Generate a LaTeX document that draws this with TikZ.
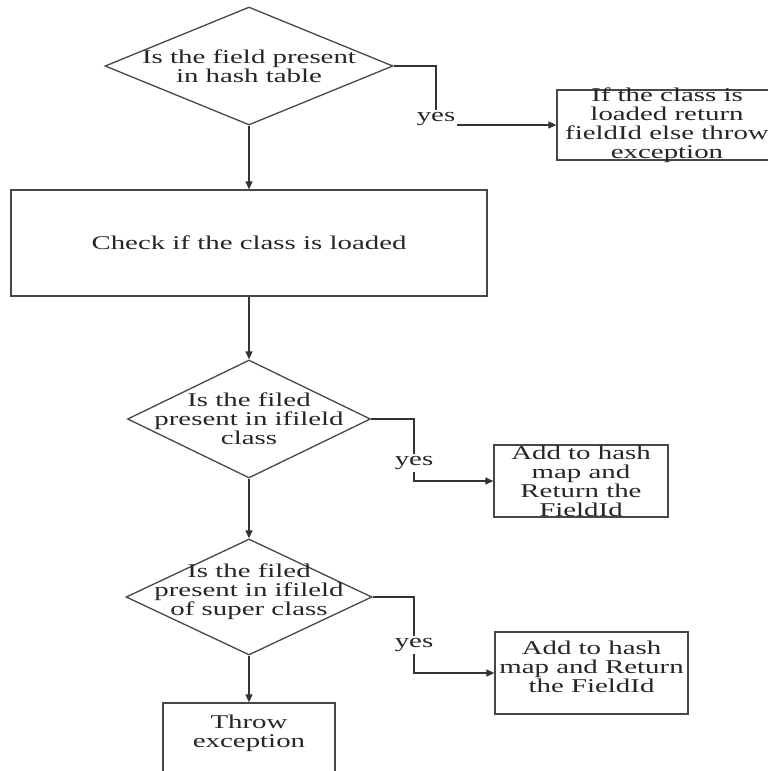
\documentclass[tikz,border=0pt]{standalone}
\usepackage{fontspec}
\setmainfont[FakeStretch=1.48]{Liberation Serif}
\usetikzlibrary{shapes.geometric,arrows.meta}
\begin{document}
\begin{tikzpicture}[x=1pt,y=-1pt,
  shapeline/.style={draw=black!72, line width=1.3pt},
  decision/.style={diamond, shapeline, inner sep=0pt},
  stepbox/.style={rectangle, shapeline, inner sep=0pt},
  lbl/.style={align=center, inner sep=0pt, text=black!85,
              font=\fontsize{19.5}{19}\selectfont},
  flow/.style={draw=black!80, line width=1.2pt, -{Triangle[length=8pt,width=7pt]}},
  yestag/.style={fill=white, inner sep=2pt, text=black!85,
                 font=\fontsize{19.5}{19}\selectfont}]

\useasboundingbox (0,0) rectangle (768,771);
\fill[white] (0,0) rectangle (768,771);

% --- main column ---
\node[decision, minimum width=288pt, minimum height=118pt,
      label={[lbl]center:{Is the field present\\in hash table}}] (d1) at (249,66) {};
\node[stepbox, minimum width=476pt, minimum height=106pt,
      label={[lbl]center:{Check if the class is loaded}}] (b2) at (249,243) {};
\node[decision, minimum width=243pt, minimum height=118pt,
      label={[lbl]center:{Is the filed\\present in ifileld\\class}}] (d2) at (249,419) {};
\node[decision, minimum width=246pt, minimum height=116pt,
      label={[lbl,yshift=5pt]center:{Is the filed\\present in ifileld\\of super class}}] (d3) at (249,597) {};
\node[stepbox, minimum width=172pt, minimum height=97pt] (b5) at (249,751.5) {};
\node[lbl] (b5t) at (249,733) {Throw\\exception};

% --- side results ---
\node[stepbox, minimum width=220pt, minimum height=70pt,
      label={[lbl]center:{If the class is\\loaded return\\fieldId else throw\\exception}}] (b1) at (667,125) {};
\node[stepbox, minimum width=174pt, minimum height=72pt,
      label={[lbl]center:{Add to hash\\map and\\Return the\\FieldId}}] (b3) at (581,481) {};
\node[stepbox, minimum width=193pt, minimum height=82pt,
      label={[lbl,yshift=6pt]center:{Add to hash\\map and Return\\the FieldId}}] (b4) at (591.5,673) {};

% --- vertical flow ---
\draw[flow] (d1.south) -- (b2.north);
\draw[flow] (b2.south) -- (d2.north);
\draw[flow] (d2.south) -- (d3.north);
\draw[flow] (d3.south) -- (b5.north);

% --- yes branches ---
\coordinate (k1) at (436,66);
\coordinate (k2) at (414,419);
\coordinate (k3) at (414,597);
\draw[flow] (d1.east) -- (k1) |- (b1.west);
\draw[flow] (d2.east) -- (k2) |- (b3.west);
\draw[flow] (d3.east) -- (k3) |- (b4.west);
\node[yestag] (y1) at (436,119) {yes};
\node[yestag] (y2) at (414,463) {yes};
\node[yestag] (y3) at (414,645) {yes};
\end{tikzpicture}
\end{document}
